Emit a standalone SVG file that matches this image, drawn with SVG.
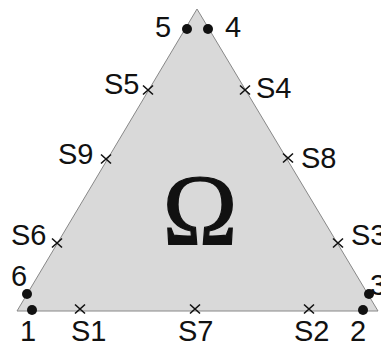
<svg xmlns="http://www.w3.org/2000/svg" width="381" height="347" viewBox="0 0 381 347">
<style>
.lbl{font-family:"Liberation Sans",Arial,sans-serif;font-size:29px;fill:#111}
.x{stroke:#111;stroke-width:1.6;fill:none}
.dot{fill:#111}
</style>
<defs>
<path id="cr" class="x" d="M-5,-4.5L5,4.5M-5,4.5L5,-4.5"/>
</defs>
<rect width="381" height="347" fill="#fff"/>
<g id="domain">
<polygon points="197,9 17,311 378,311" fill="#d9d9d9" stroke="#888" stroke-width="1"/>
<text x="200" y="245" text-anchor="middle" style="font-family:'Liberation Serif','Times New Roman',serif;font-size:101px;fill:#111;stroke:#111;stroke-width:1.2">Ω</text>
</g>
<g id="sensors">
<use href="#cr" x="80" y="309"/><text class="lbl" x="71" y="341">S1</text>
<use href="#cr" x="309" y="309"/><text class="lbl" x="294" y="341">S2</text>
<use href="#cr" x="195" y="309"/><text class="lbl" x="178" y="341">S7</text>
<use href="#cr" x="338" y="243"/><text class="lbl" x="351" y="245">S3</text>
<use href="#cr" x="57" y="243"/><text class="lbl" x="11" y="245">S6</text>
<use href="#cr" x="106" y="159"/><text class="lbl" x="58" y="164">S9</text>
<use href="#cr" x="148" y="90"/><text class="lbl" x="104" y="94">S5</text>
<use href="#cr" x="245" y="90"/><text class="lbl" x="256" y="98">S4</text>
<use href="#cr" x="288" y="158"/><text class="lbl" x="301" y="168">S8</text>
</g>
<g id="nodes">
<circle class="dot" cx="187" cy="29" r="5"/><text class="lbl" x="155" y="37">5</text>
<circle class="dot" cx="208" cy="29" r="5"/><text class="lbl" x="225" y="37">4</text>
<circle class="dot" cx="27" cy="294" r="5"/><text class="lbl" x="11" y="286">6</text>
<circle class="dot" cx="32" cy="310" r="5"/><text class="lbl" x="20" y="341">1</text>
<circle class="dot" cx="369" cy="294" r="5"/><text class="lbl" x="370" y="295">3</text>
<circle class="dot" cx="363" cy="310" r="5"/><text class="lbl" x="350" y="341">2</text>
</g>
</svg>
